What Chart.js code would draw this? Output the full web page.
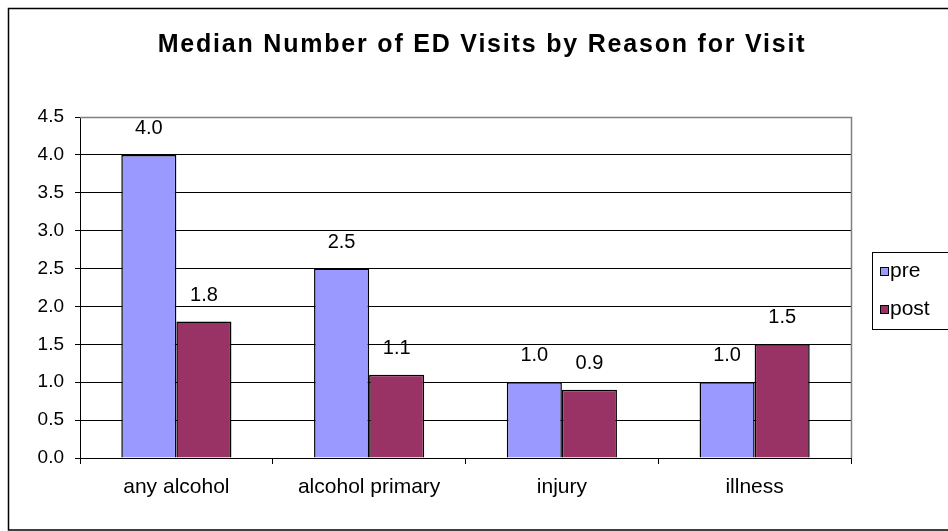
<!DOCTYPE html>
<html>
<head>
<meta charset="utf-8">
<title>Median Number of ED Visits by Reason for Visit</title>
<script src="https://cdn.jsdelivr.net/npm/chart.js@4.4.1/dist/chart.umd.min.js"></script>
<style>
  html, body { margin: 0; padding: 0; background: #fff; }
  canvas { display: block; }
</style>
</head>
<body>
<canvas id="edChart" width="948" height="531"></canvas>
<script>
// data
const categories = ['any alcohol', 'alcohol primary', 'injury', 'illness'];
const seriesNames = ['pre', 'post'];
const preValues = [4.0, 2.5, 1.0, 1.0];
const postValues = [1.8, 1.1, 0.9, 1.5];
const yMin = 0, yMax = 4.5, yStep = 0.5;
const chartTitle = 'Median Number of ED Visits by Reason for Visit';

const FONT = '"Liberation Sans", Arial, sans-serif';
const colors = ['#9999FF', '#993366'];

// background, outer frame, plot border, title and legend (Excel style)
const excelFrame = {
  id: 'excelFrame',
  beforeDraw(chart) {
    const c = chart.ctx;
    c.save();
    c.fillStyle = '#fff';
    c.fillRect(0, 0, chart.width, chart.height);
    c.strokeStyle = '#000';
    c.lineWidth = 1.5;
    c.strokeRect(8.5, 8.5, chart.width + 10, chart.height - 9.5);
    c.restore();
  },
  afterDraw(chart) {
    const c = chart.ctx;
    const a = chart.chartArea;
    c.save();
    // plot area border on top and right side
    c.strokeStyle = '#808080';
    c.lineWidth = 1.5;
    c.beginPath();
    c.moveTo(a.left, Math.round(a.top) + 0.5);
    c.lineTo(Math.round(a.right) + 0.5, Math.round(a.top) + 0.5);
    c.lineTo(Math.round(a.right) + 0.5, a.bottom);
    c.stroke();

    // title
    c.fillStyle = '#000';
    c.font = 'bold 25px ' + FONT;
    c.letterSpacing = '1.8px';
    c.textBaseline = 'alphabetic';
    c.textAlign = 'left';
    const tw = c.measureText(chartTitle).width;
    c.fillText(chartTitle, 482 - tw / 2, 52);
    c.letterSpacing = '0px';

    // legend
    c.strokeStyle = '#000';
    c.lineWidth = 1;
    c.strokeRect(872.5, 252.5, 90, 77);
    c.font = '21px ' + FONT;
    chart.data.datasets.forEach((ds, i) => {
      const y = 267 + i * 38;
      c.fillStyle = ds.backgroundColor;
      c.fillRect(880, y, 9, 9);
      c.strokeStyle = '#000';
      c.strokeRect(880.5, y + 0.5, 8, 8);
      c.fillStyle = '#000';
      c.fillText(ds.label, 890, y + 10);
    });
    c.restore();
  },
  afterDatasetsDraw(chart) {
    // value labels above each bar
    const c = chart.ctx;
    c.save();
    c.fillStyle = '#000';
    c.font = '20px ' + FONT;
    c.textAlign = 'center';
    c.textBaseline = 'alphabetic';
    chart.data.datasets.forEach((ds, i) => {
      chart.getDatasetMeta(i).data.forEach((bar, j) => {
        c.fillText(Number(ds.data[j]).toFixed(1), bar.x, bar.y - 21);
      });
    });
    c.restore();
  }
};

const ctx = document.getElementById('edChart').getContext('2d');
const edChart = new Chart(ctx, {
  type: 'bar',
  data: {
    labels: categories,
    datasets: [
      { label: seriesNames[0], data: preValues, backgroundColor: colors[0], borderColor: '#000', borderWidth: 1.5 },
      { label: seriesNames[1], data: postValues, backgroundColor: colors[1], borderColor: '#000', borderWidth: 1.5 }
    ]
  },
  options: {
    responsive: false,
    animation: false,
    devicePixelRatio: 1,
    categoryPercentage: 2 / 3.5,
    barPercentage: 1,
    layout: { padding: { top: 117, right: 97, left: 0, bottom: 0 } },
    plugins: {
      legend: { display: false },
      title: { display: false },
      tooltip: { enabled: false }
    },
    scales: {
      x: {
        afterFit(scale) { scale.height = 73; },
        border: { color: '#000', width: 1 },
        grid: {
          offset: true,
          drawOnChartArea: false,
          drawTicks: true,
          tickLength: 6,
          tickColor: '#000'
        },
        ticks: {
          color: '#000',
          padding: 11,
          autoSkip: false,
          maxRotation: 0,
          font: { family: FONT, size: 21 }
        }
      },
      y: {
        min: yMin,
        max: yMax,
        afterFit(scale) { scale.width = 80; },
        border: { color: '#000', width: 1 },
        grid: {
          color: (c) => (c.tick && c.tick.value >= yMax ? '#808080' : '#000'),
          tickColor: '#000',
          tickLength: 5,
          lineWidth: 1
        },
        ticks: {
          stepSize: yStep,
          color: '#000',
          padding: 11,
          font: { family: FONT, size: 19 },
          callback: (v) => Number(v).toFixed(1)
        }
      }
    }
  },
  plugins: [excelFrame]
});
</script>
</body>
</html>
